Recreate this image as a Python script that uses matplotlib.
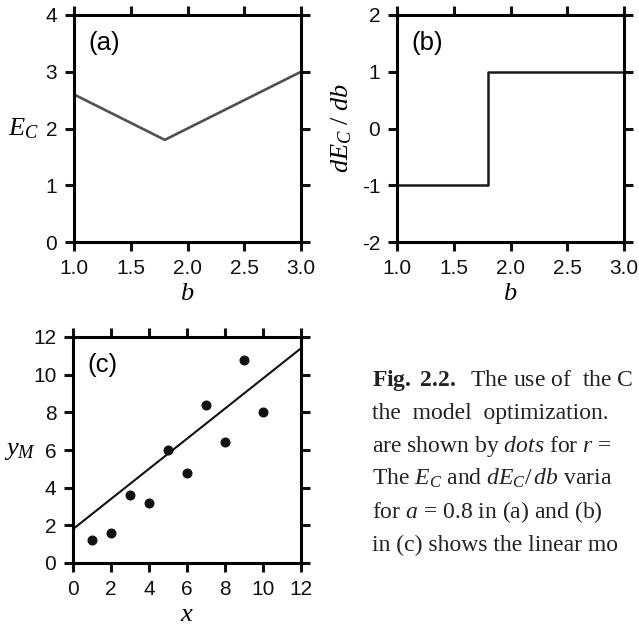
import matplotlib
matplotlib.use("Agg")
import matplotlib.pyplot as plt
import numpy as np

plt.rcParams["font.family"] = "Liberation Sans"
plt.rcParams["axes.unicode_minus"] = False
plt.rcParams["mathtext.fontset"] = "custom"
plt.rcParams["mathtext.rm"] = "Liberation Serif"
plt.rcParams["mathtext.it"] = "Liberation Serif:italic"
plt.rcParams["mathtext.bf"] = "Liberation Serif:bold"

# cost function E_C over the parameter b (a fixed at 0.8)
b_vals = [1.0, 1.8, 3.0]
ec_vals = [2.6, 1.8, 3.0]

# its derivative, piecewise constant
db_vals = [1.0, 1.8, 1.8, 3.0]
dec_vals = [-1.0, -1.0, 1.0, 1.0]

# observations and the linear model y = a*x + b
x_obs = [1, 2, 3, 4, 5, 6, 7, 8, 9, 10]
y_obs = [1.2, 1.6, 3.6, 3.2, 6.0, 4.8, 8.4, 6.4, 10.8, 8.0]
slope_a = 0.8
intercept_b = 1.8

caption_lines = [
    r"$\mathbf{Fig.\ 2.2.}$  The use of  the C",
    "the  model  optimization.",
    r"are shown by $\mathit{dots}$ for $r$ =",
    r"The $E_C$ and $dE_C/\,db$ varia",
    r"for $a$ = 0.8 in (a) and (b)",
    "in (c) shows the linear mo",
]

W, H = 639, 631
fig = plt.figure(figsize=(W / 100, H / 100), dpi=100)


def px_axes(left, top, right, bottom):
    return fig.add_axes([left / W, 1 - bottom / H, (right - left) / W, (bottom - top) / H])


def style(ax):
    for s in ax.spines.values():
        s.set_linewidth(2.2)
    ax.tick_params(which="both", direction="out", length=6.5, width=2.2,
                   top=True, right=True, labelsize=15, pad=5.5, colors="#111111")
    ax.tick_params(axis="x", pad=6)


label_font = dict(fontsize=19)
tag_font = dict(fontsize=18.5, va="center")

ax1 = px_axes(74, 15, 301, 242)
ax1.plot(b_vals, ec_vals, color="#505050", lw=1.9)
ax1.set_xlim(1.0, 3.0)
ax1.set_ylim(0, 4)
ax1.set_xticks([1.0, 1.5, 2.0, 2.5, 3.0])
ax1.set_xticklabels(["1.0", "1.5", "2.0", "2.5", "3.0"])
ax1.set_yticks([0, 1, 2, 3, 4])
ax1.set_xlabel(r"$b$", labelpad=2, **label_font)
ax1.set_ylabel(r"$E_C$", rotation=0, labelpad=16, va="center", **label_font)
ax1.text(0.065, 0.875, "(a)", transform=ax1.transAxes, **tag_font)
style(ax1)

ax2 = px_axes(397, 15, 624, 242)
ax2.plot(db_vals, dec_vals, color="#1a1a1a", lw=1.8)
ax2.set_xlim(1.0, 3.0)
ax2.set_ylim(-2, 2)
ax2.set_xticks([1.0, 1.5, 2.0, 2.5, 3.0])
ax2.set_xticklabels(["1.0", "1.5", "2.0", "2.5", "3.0"])
ax2.set_yticks([-2, -1, 0, 1, 2])
ax2.set_xlabel(r"$b$", labelpad=2, **label_font)
ax2.set_ylabel(r"$dE_C\ /\ db$", labelpad=6, **label_font)
ax2.text(0.065, 0.875, "(b)", transform=ax2.transAxes, **tag_font)
style(ax2)

ax3 = px_axes(73, 337, 301, 563)
xl = np.array([0, 12])
ax3.plot(xl, slope_a * xl + intercept_b, color="#111111", lw=1.5)
ax3.plot(x_obs, y_obs, "o", color="#111111", ms=6.2)
ax3.set_xlim(0, 12)
ax3.set_ylim(0, 12)
ax3.set_xticks(range(0, 13, 2))
ax3.set_yticks(range(0, 13, 2))
ax3.set_xlabel(r"$x$", labelpad=2, **label_font)
ax3.set_ylabel(r"$y_M$", rotation=0, labelpad=9, va="center", **label_font)
ax3.text(0.065, 0.875, "(c)", transform=ax3.transAxes, **tag_font)
style(ax3)

# figure caption, running off the right edge of the page
for i, line in enumerate(caption_lines):
    fig.text(372 / W, 1 - (386 + 33 * i) / H, line, fontsize=17,
             family="Liberation Serif", color="#222222", va="baseline")

fig.savefig("out.png", dpi=100)
